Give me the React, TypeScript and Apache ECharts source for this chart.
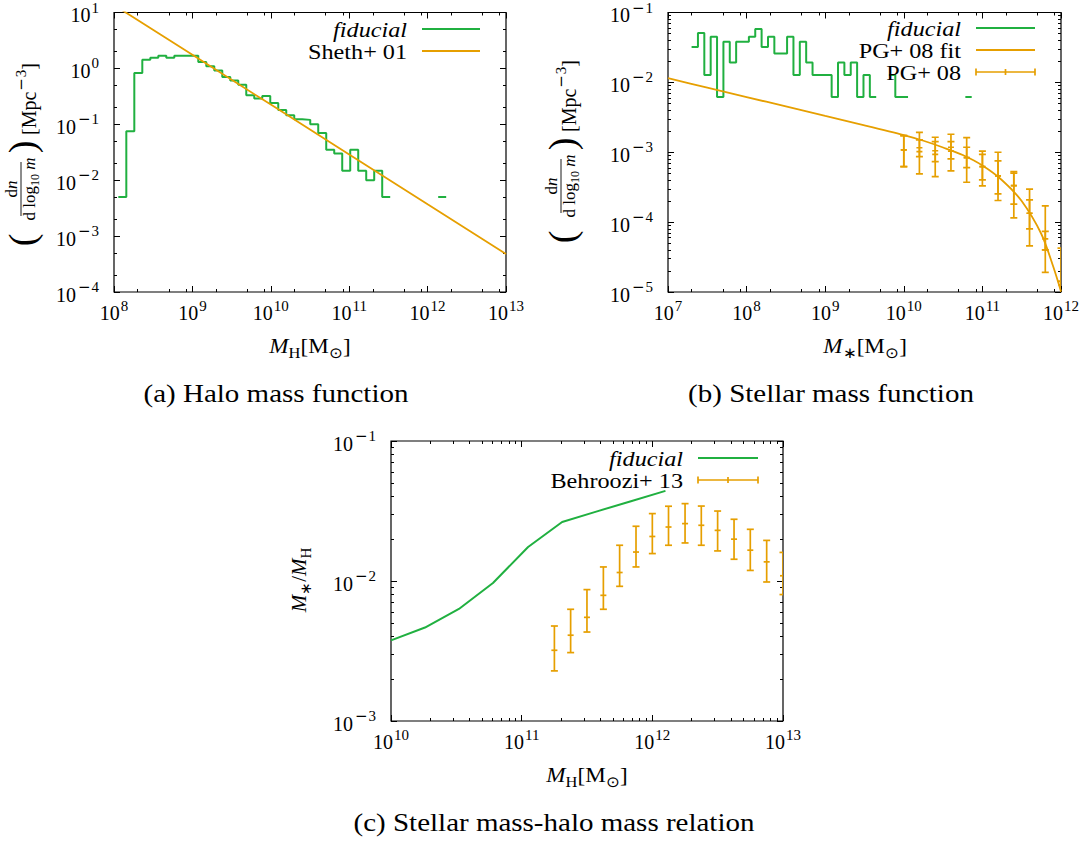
import React, { useEffect, useRef } from 'react';
import * as echarts from 'echarts';

// ---------------- data ----------------
// (a) halo mass function: fiducial histogram (bins in log10 M_H)
const haloBinStartLog = 8.055;
const haloBinWidth = 0.102;
const haloDensity: (number | null)[] = [
  0.005, 0.075, 0.83, 1.43, 1.55, 1.69, 1.55, 1.69, 1.69, 1.69,
  1.3, 1.09, 0.92, 0.7, 0.61, 0.51, 0.33, 0.29, 0.32, 0.24,
  0.18, 0.145, 0.123, 0.12, 0.1, 0.07, 0.035, 0.03, 0.0148, 0.035,
  0.0148, 0.01, 0.0148, 0.005, null, null, null, null, null, null, 0.005,
];
// Sheth+ 01
const shethMass = [1e8, 1e9, 1e10, 1e11, 1e12, 1e13];
const shethDensity = [13.6, 1.75, 0.225, 0.0288, 0.0037, 0.00048];

// (b) stellar mass function: fiducial histogram (bins in log10 M_*)
const stellarBinStartLog = 7.3;
const stellarBinWidth = 0.081;
const stellarDensity: (number | null)[] = [
  0.032, 0.051, 0.0127, 0.045, 0.0062, 0.038, 0.0193, 0.038, 0.038, 0.045,
  0.058, 0.032, 0.045, 0.026, 0.026, 0.045, 0.0127, 0.038, 0.0193, 0.0127,
  0.0127, 0.0127, 0.0062, 0.0193, 0.0127, 0.0193, 0.0062, 0.0127, 0.0062, null,
  null, 0.0127, 0.0062, 0.0062, null, null, null, null, null, null,
  null, null, null, 0.0062,
];
// PG+ 08 fit
const pgFitMass = [1e7, 3.16e7, 1e8, 3.16e8, 1e9, 3.16e9, 1e10, 1.78e10, 3.16e10, 5.62e10, 1e11, 1.78e11, 3.16e11, 5.62e11, 7.94e11, 1e12];
const pgFitDensity = [0.01148, 0.00841, 0.00617, 0.00452, 0.00331, 0.00243, 0.00176, 0.00146, 0.00117, 0.000912, 0.000646, 0.000398, 0.0002, 0.0000676, 0.0000234, 0.0000102];
// PG+ 08 data points (two overlapping sets)
const pgMass = [1e10, 1.58e10, 2.51e10, 3.98e10, 6.31e10, 1e11, 1.58e11, 2.51e11, 3.98e11, 6.31e11, 1e12];
const pgAMid = [1.08e-3, 1.16e-3, 1.05e-3, 1.04e-3, 8.38e-4, 6.24e-4, 4.58e-4, 3.33e-4, 1.34e-4, 4.02e-5, 1.42e-5];
const pgALo = [6.24e-4, 4.9e-4, 4.49e-4, 5.41e-4, 3.72e-4, 3.3e-4, 2.04e-4, 1.15e-4, 4.58e-5, 1.91e-5, 8.7e-6];
const pgAHi = [1.73e-3, 1.93e-3, 1.64e-3, 1.81e-3, 1.62e-3, 1.04e-3, 1.0e-3, 5.28e-4, 2.96e-4, 1.71e-4, 4.25e-5];
const pgBMid = [1.08e-3, 1.02e-3, 9.35e-4, 1.18e-3, 8.38e-4, 6.24e-4, 4.58e-4, 3.33e-4, 1.34e-4, 5.77e-5, 1.27e-5];
const pgBLo = [6.24e-4, 8.67e-4, 7.35e-4, 8.02e-4, 6.03e-4, 4.02e-4, 2.54e-4, 1.81e-4, 8.02e-5, 4.02e-5, 8.7e-6];
const pgBHi = [1.73e-3, 1.5e-3, 1.42e-3, 1.42e-3, 1.18e-3, 9.35e-4, 7.52e-4, 5.01e-4, 2.08e-4, 7.35e-5, 1.42e-5];

// (c) stellar mass - halo mass relation
const smhmMass = [1e10, 1.82e10, 3.31e10, 6.03e10, 1.12e11, 2.04e11, 3.72e11, 6.76e11, 1.26e12];
const smhmRatio = [0.00377, 0.00465, 0.00631, 0.00968, 0.0175, 0.0264, 0.0313, 0.037, 0.044];
const behrooziMass = [1.78e11, 2.37e11, 3.16e11, 4.22e11, 5.62e11, 7.5e11, 1e12, 1.33e12, 1.78e12, 2.37e12, 3.16e12, 4.22e12, 5.62e12, 7.5e12, 1e13];
const behrooziMid = [0.0032, 0.0041, 0.0055, 0.0079, 0.0115, 0.0161, 0.0208, 0.0243, 0.0257, 0.025, 0.023, 0.0199, 0.0166, 0.0137, 0.0109];
const behrooziHi = [0.00477, 0.00628, 0.00868, 0.0126, 0.018, 0.0246, 0.0303, 0.0342, 0.0357, 0.0343, 0.0316, 0.0276, 0.0234, 0.0195, 0.016];
const behrooziLo = [0.00228, 0.00308, 0.00432, 0.00628, 0.00916, 0.0126, 0.0157, 0.018, 0.0187, 0.018, 0.0164, 0.0143, 0.0119, 0.00984, 0.008];

// ---------------- styling ----------------
const FAM = 'Liberation Serif';
const GREEN = '#20b040';
const ORANGE = '#e69f00';
const lg = Math.log10;

function stepRuns(start: number, width: number, values: (number | null)[]) {
  const runs: number[][][] = [];
  let cur: number[][] | null = null;
  values.forEach((v, i) => {
    if (v == null) {
      if (cur) { runs.push(cur); cur = null; }
      return;
    }
    const e0 = start + i * width;
    const e1 = e0 + width;
    if (!cur) cur = [];
    cur.push([e0, lg(v)], [e1, lg(v)]);
  });
  if (cur) runs.push(cur);
  return runs;
}

const fmtPow = (v: number) => {
  const n = Math.round(v);
  return n < 0 ? `{b|10}{m|\u2212}{s|${-n}}` : `{b|10}{s|${n}}`;
};
const labelRich = {
  b: { fontSize: 20, fontFamily: FAM, color: '#000', verticalAlign: 'bottom' },
  m: { fontSize: 15, fontFamily: 'DejaVu Serif', color: '#000', padding: [0, 0, 10, 2], verticalAlign: 'bottom' },
  s: { fontSize: 15, fontFamily: FAM, color: '#000', padding: [0, 0, 10, 1], verticalAlign: 'bottom' },
};

function buildAxes(kind: 'x' | 'y', gridIndex: number, min: number, max: number, minorFactors: number[]) {
  const majorTick = { show: true, inside: true, length: 6, lineStyle: { color: '#000', width: 1 } };
  const minorVals: number[] = [];
  for (let d = min; d < max; d++) for (const f of minorFactors) minorVals.push(d + lg(f));
  const minorTick = { show: true, inside: true, length: 3, lineStyle: { color: '#000', width: 1 }, customValues: minorVals };
  const posA = kind === 'x' ? 'bottom' : 'left';
  const posB = kind === 'x' ? 'top' : 'right';
  const base = { type: 'value', gridIndex, min, max, splitLine: { show: false }, axisLine: { show: false, onZero: false } };
  return [
    {
      ...base, position: posA, interval: 1, axisTick: majorTick,
      axisLabel: {
        show: true, formatter: fmtPow, rich: labelRich, margin: kind === 'x' ? 6 : 15,
        fontFamily: FAM, fontSize: 20, color: '#000',
        showMinLabel: true, showMaxLabel: true, hideOverlap: false,
      },
    },
    { ...base, position: posB, interval: 1, axisTick: majorTick, axisLabel: { show: false } },
    { ...base, position: posA, axisTick: minorTick, axisLabel: { show: false } },
    { ...base, position: posB, axisTick: minorTick, axisLabel: { show: false } },
  ];
}

const FULL = [2, 3, 4, 5, 6, 7, 8, 9];

function errorBarSeries(name: string, gridIdx: number, data: number[][]) {
  return {
    type: 'custom', name, xAxisIndex: gridIdx * 4, yAxisIndex: gridIdx * 4, clip: true, z: 3,
    data,
    encode: { x: 0, y: [1, 2, 3] },
    renderItem: (params: any, api: any) => {
      const x = api.value(0);
      const pLo = api.coord([x, api.value(1)]);
      const pHi = api.coord([x, api.value(2)]);
      const pMid = api.coord([x, api.value(3)]);
      const cap = 3.5;
      const style = { stroke: ORANGE, lineWidth: 1.7, fill: null };
      const ln = (x1: number, y1: number, x2: number, y2: number) => ({ type: 'line', shape: { x1, y1, x2, y2 }, style });
      return {
        type: 'group',
        children: [
          ln(pLo[0], pLo[1], pHi[0], pHi[1]),
          ln(pLo[0] - cap, pLo[1], pLo[0] + cap, pLo[1]),
          ln(pHi[0] - cap, pHi[1], pHi[0] + cap, pHi[1]),
          ln(pMid[0] - 3, pMid[1], pMid[0] + 3, pMid[1]),
        ],
      };
    },
  };
}

function stepSeries(gridIdx: number, runs: number[][][]) {
  return runs.map((run) => ({
    type: 'line', name: 'fiducial', xAxisIndex: gridIdx * 4, yAxisIndex: gridIdx * 4,
    data: run, showSymbol: false, symbol: 'none', lineStyle: { color: GREEN, width: 2 }, z: 2,
  }));
}

// rich token style helper
const tok = (size: number, italic = false, extra: any = {}) => ({
  fontFamily: FAM, fontSize: size, fontStyle: italic ? 'italic' : 'normal', fill: '#000', ...extra,
});

const txt = (text: string, x: number, y: number, opts: any = {}) => {
  const size = opts.fontSize || 20;
  const italic = opts.fontStyle === 'italic';
  const rich = opts.rich || { r: tok(size, italic) };
  const content = opts.rich ? text : `{r|${text}}`;
  return {
    type: 'text', x, y, z: 100, scaleX: opts.scaleX || 1, rotation: opts.rotation || 0,
    style: {
      text: content, fill: '#000', fontFamily: FAM, fontSize: size, fontStyle: italic ? 'italic' : 'normal',
      align: opts.align || 'center', verticalAlign: opts.verticalAlign || 'middle', rich,
    },
  };
};
const gline = (x1: number, y1: number, x2: number, y2: number, color: string, w = 2) => ({
  type: 'line', z: 100, shape: { x1, y1, x2, y2 }, style: { stroke: color, lineWidth: w },
});

const titleRich = {
  i: tok(21, true, { padding: [0, 0, 4, 0], verticalAlign: 'bottom' }),
  r: tok(21, false, { padding: [0, 0, 4, 0], verticalAlign: 'bottom' }),
  s: tok(15, false, { verticalAlign: 'bottom' }),
};

function legendEntry(label: string, italic: boolean, textRight: number, y: number, x1: number, x2: number, color: string, errbar: boolean) {
  const items: any[] = [
    txt(label, textRight, y, { align: 'right', fontSize: 22, scaleX: 1.1, fontStyle: italic ? 'italic' : 'normal' }),
    gline(x1, y, x2, y, color, errbar ? 1.7 : 2),
  ];
  if (errbar) {
    const m = (x1 + x2) / 2;
    items.push(gline(x1, y - 3.5, x1, y + 3.5, color, 1.7));
    items.push(gline(x2, y - 3.5, x2, y + 3.5, color, 1.7));
    items.push(gline(m, y - 3, m, y + 3, color, 1.7));
  }
  return items;
}

function dndlogmLabel(cx: number, cy: number) {
  const t = (text: string, x: number, y: number, align: string, rich: any) => ({
    type: 'text', x, y, style: { text, fill: '#000', fontFamily: FAM, fontSize: 17, align, verticalAlign: 'middle', rich },
  });
  const paren = { p: tok(38) };
  return {
    type: 'group', x: cx, y: cy, rotation: Math.PI / 2, z: 100,
    children: [
      t('{p|(}', -86, -2, 'center', paren),
      t('{p|)}', 7, -2, 'center', paren),
      t('{r|d}{i|n}', -35, -13, 'center', { r: tok(17), i: tok(17, true) }),
      { type: 'line', shape: { x1: -62, y1: -3, x2: -8, y2: -3 }, style: { stroke: '#000', lineWidth: 0.9 } },
      t('{r|d log}{s|10}{r| }{i|m}', -35, 7, 'center', {
        r: tok(17, false, { verticalAlign: 'bottom', padding: [0, 0, 3, 0] }),
        i: tok(17, true, { verticalAlign: 'bottom', padding: [0, 0, 3, 0] }),
        s: tok(12, false, { verticalAlign: 'bottom' }),
      }),
      t('{r|[Mpc}{m|\u2212}{s|3}{r|]}', 19, 2, 'left', {
        r: tok(20, false, { verticalAlign: 'bottom' }),
        m: { fontFamily: 'DejaVu Serif', fontSize: 15, fill: '#000', verticalAlign: 'bottom', padding: [0, 0, 10, 1] },
        s: tok(15, false, { verticalAlign: 'bottom', padding: [0, 0, 10, 1] }),
      }),
    ],
  };
}

export default function App() {
  const ref = useRef<HTMLDivElement>(null);
  useEffect(() => {
    if (!ref.current) return;
    const chart = echarts.init(ref.current, undefined, { renderer: 'svg' });

    const gridBase = { show: true, borderColor: '#000', borderWidth: 1.2, backgroundColor: 'transparent', containLabel: false };

    const series: any[] = [
      ...stepSeries(0, stepRuns(haloBinStartLog, haloBinWidth, haloDensity)),
      {
        type: 'line', name: 'Sheth+ 01', xAxisIndex: 0, yAxisIndex: 0, showSymbol: false, symbol: 'none', z: 3,
        data: shethMass.map((m, i) => [lg(m), lg(shethDensity[i])]), lineStyle: { color: ORANGE, width: 1.8 },
      },
      ...stepSeries(1, stepRuns(stellarBinStartLog, stellarBinWidth, stellarDensity)),
      {
        type: 'line', name: 'PG+ 08 fit', xAxisIndex: 4, yAxisIndex: 4, showSymbol: false, symbol: 'none', smooth: 0.3, z: 3,
        data: pgFitMass.map((m, i) => [lg(m), lg(pgFitDensity[i])]), lineStyle: { color: ORANGE, width: 1.8 },
      },
      errorBarSeries('PG+ 08', 1, pgMass.map((m, i) => [lg(m), lg(pgALo[i]), lg(pgAHi[i]), lg(pgAMid[i])])),
      errorBarSeries('PG+ 08', 1, pgMass.map((m, i) => [lg(m), lg(pgBLo[i]), lg(pgBHi[i]), lg(pgBMid[i])])),
      {
        type: 'line', name: 'fiducial', xAxisIndex: 8, yAxisIndex: 8, showSymbol: false, symbol: 'none', z: 3,
        data: smhmMass.map((m, i) => [lg(m), lg(smhmRatio[i])]), lineStyle: { color: GREEN, width: 2 },
      },
      errorBarSeries('Behroozi+ 13', 2, behrooziMass.map((m, i) => [lg(m), lg(behrooziLo[i]), lg(behrooziHi[i]), lg(behrooziMid[i])])),
    ];

    const graphic: any[] = [
      // legends
      ...legendEntry('fiducial', true, 407, 29, 422, 480, GREEN, false),
      ...legendEntry('Sheth+ 01', false, 407, 51, 422, 480, ORANGE, false),
      ...legendEntry('fiducial', true, 961, 28, 976, 1035, GREEN, false),
      ...legendEntry('PG+ 08 fit', false, 961, 50, 976, 1035, ORANGE, false),
      ...legendEntry('PG+ 08', false, 961, 72, 976, 1035, ORANGE, true),
      ...legendEntry('fiducial', true, 683, 458, 698, 758, GREEN, false),
      ...legendEntry('Behroozi+ 13', false, 683, 480, 698, 758, ORANGE, true),
      // axis titles
      txt('{i|M}{s|H}{r|[M}{s|\u2299}{r|]}', 310, 348, { rich: titleRich, scaleX: 1.1 }),
      txt('{i|M}{s|\u2217}{r|[M}{s|\u2299}{r|]}', 865, 348, { rich: titleRich, scaleX: 1.1 }),
      txt('{i|M}{s|H}{r|[M}{s|\u2299}{r|]}', 587, 777, { rich: titleRich, scaleX: 1.1 }),
      txt('{i|M}{s|\u2217}{r|/}{i|M}{s|H}', 301, 580, { rich: titleRich, rotation: Math.PI / 2 }),
      dndlogmLabel(24, 154),
      dndlogmLabel(564, 151),
      // captions
      txt('(a) Halo mass function', 276, 394, { fontSize: 25, scaleX: 1.16 }),
      txt('(b) Stellar mass function', 831, 394, { fontSize: 25, scaleX: 1.16 }),
      txt('(c) Stellar mass-halo mass relation', 554, 823, { fontSize: 25, scaleX: 1.16 }),
    ];

    chart.setOption({
      animation: false,
      backgroundColor: '#ffffff',
      textStyle: { fontFamily: FAM },
      grid: [
        { ...gridBase, left: 114, top: 12, width: 392, height: 280 },
        { ...gridBase, left: 668, top: 12, width: 393, height: 280 },
        { ...gridBase, left: 391, top: 441, width: 392, height: 280 },
      ],
      xAxis: [
        ...buildAxes('x', 0, 8, 13, [2, 5, 8.3]),
        ...buildAxes('x', 1, 7, 12, [2, 5, 8.3]),
        ...buildAxes('x', 2, 10, 13, FULL),
      ],
      yAxis: [
        ...buildAxes('y', 0, -4, 1, [2, 5]),
        ...buildAxes('y', 1, -5, -1, FULL),
        ...buildAxes('y', 2, -3, -1, FULL),
      ],
      series,
      graphic,
    });
    return () => chart.dispose();
  }, []);
  return <div ref={ref} style={{ position: 'fixed', left: 0, top: 0, width: 1082, height: 843, background: '#fff' }} />;
}
